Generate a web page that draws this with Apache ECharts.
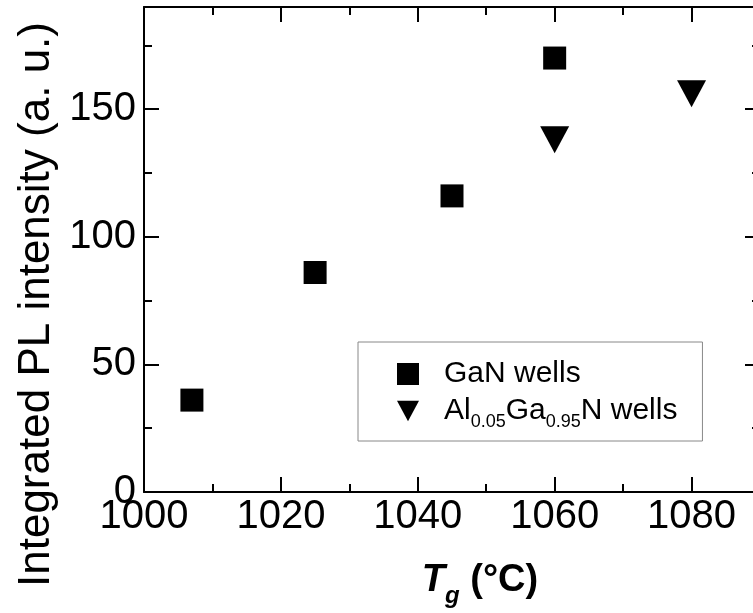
<!DOCTYPE html>
<html>
<head>
<meta charset="utf-8">
<script src="https://cdn.jsdelivr.net/npm/echarts@6/dist/echarts.min.js"></script>
<style>
html,body{margin:0;padding:0;background:#fff;}
#chart{width:753px;height:613px;}
</style>
</head>
<body>
<div id="chart"></div>
<script>
// 数据
var ganTemp = [1007, 1025, 1045, 1060];
var ganPL = [36, 86, 116, 170];
var alganTemp = [1060, 1080];
var alganPL = [138, 156];
var seriesNames = ['GaN wells', 'AlGaN wells'];

function pairs(xs, ys) {
  return xs.map(function (x, i) { return [x, ys[i]]; });
}

var font = 'Liberation Sans, Arial, sans-serif';
var triPath = 'path://M0,0L10,0L5,9.3Z';

var chart = echarts.init(document.getElementById('chart'));

var axisBase = {
  axisLine: { show: true, onZero: false, lineStyle: { color: '#000', width: 2 } },
  axisTick: { show: true, inside: true, length: 15, lineStyle: { color: '#000', width: 2 } },
  minorTick: { show: true, splitNumber: 2, length: 8, lineStyle: { color: '#000', width: 2 } },
  splitLine: { show: false }
};

function plain(v) { return String(v); }

chart.setOption({
  animation: false,
  grid: { left: 144, top: 7, width: 616, height: 485, outerBoundsMode: 'none', containLabel: false },
  xAxis: [
    echarts.util.merge({
      type: 'value', min: 1000, max: 1090, interval: 20,
      name: '{i|T}{sub|g}{n| (°C)}',
      nameLocation: 'middle', nameGap: 62,
      nameTextStyle: {
        padding: [0, 0, 0, 56],
        rich: {
          i: { fontFamily: font, fontSize: 38, fontStyle: 'italic', fontWeight: 'bold', color: '#000' },
          sub: { fontFamily: font, fontSize: 24, fontStyle: 'italic', fontWeight: 'bold', color: '#000', padding: [30, 0, 0, 0] },
          n: { fontFamily: font, fontSize: 38, fontWeight: 'bold', color: '#000' }
        }
      },
      axisLabel: { fontFamily: font, fontSize: 40, color: '#000', margin: 5, showMaxLabel: false, formatter: plain }
    }, axisBase, true),
    echarts.util.merge({
      type: 'value', min: 1000, max: 1090, interval: 20, position: 'top',
      axisLabel: { show: false }
    }, axisBase, true)
  ],
  yAxis: [
    echarts.util.merge({
      type: 'value', min: 0, max: 190, interval: 50,
      name: 'Integrated PL intensity (a. u.)',
      nameLocation: 'middle', nameGap: 82,
      nameTextStyle: { fontFamily: font, fontSize: 44, color: '#000', padding: [0, 110, 0, 0] },
      axisLabel: { fontFamily: font, fontSize: 40, color: '#000', margin: 8, showMaxLabel: false, formatter: plain }
    }, axisBase, true),
    echarts.util.merge({
      type: 'value', min: 0, max: 190, interval: 50, position: 'right',
      axisLabel: { show: false }
    }, axisBase, true)
  ],
  legend: {
    orient: 'vertical',
    left: 358, top: 342,
    padding: [17, 25, 10, 39],
    itemGap: 7,
    itemWidth: 22, itemHeight: 22,
    borderColor: '#888', borderWidth: 1,
    textStyle: {
      fontFamily: font, fontSize: 30, color: '#000', padding: [0, 0, 0, 20],
      rich: {
        n: { fontFamily: font, fontSize: 30, color: '#000' },
        s: { fontFamily: font, fontSize: 18, color: '#000', padding: [22, 0, 0, 0] }
      }
    },
    data: [
      { name: seriesNames[0], icon: 'rect' },
      { name: seriesNames[1], icon: triPath }
    ],
    formatter: function (name) {
      if (name === seriesNames[1]) return '{n|Al}{s|0.05}{n|Ga}{s|0.95}{n|N wells}';
      return '{n|' + name + '}';
    }
  },
  series: [
    {
      name: seriesNames[0], type: 'scatter',
      data: pairs(ganTemp, ganPL),
      symbol: 'rect', symbolSize: 23,
      itemStyle: { color: '#000', opacity: 1 }
    },
    {
      name: seriesNames[1], type: 'scatter',
      data: pairs(alganTemp, alganPL),
      symbol: triPath, symbolSize: [29, 27],
      itemStyle: { color: '#000', opacity: 1 }
    }
  ]
});
</script>
</body>
</html>
